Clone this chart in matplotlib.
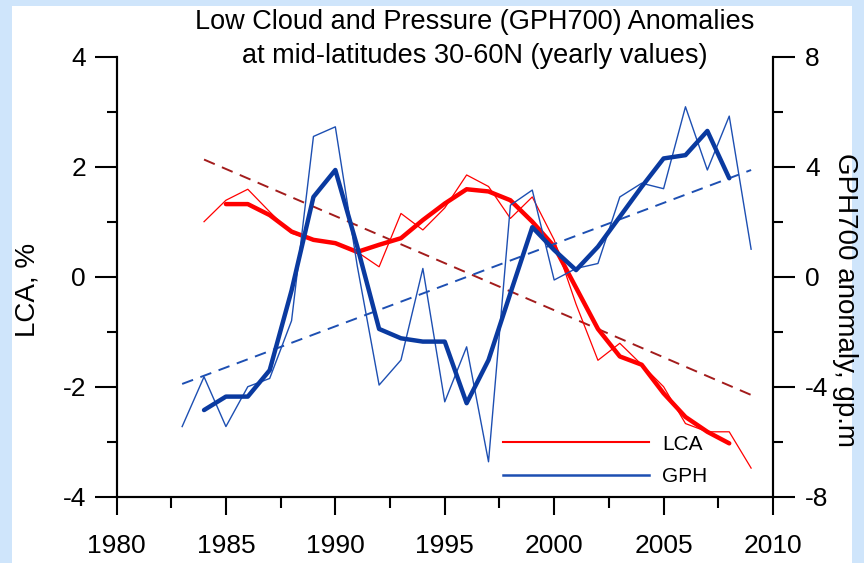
import matplotlib
matplotlib.use('Agg')
import matplotlib.pyplot as plt
from matplotlib.patches import Rectangle
from matplotlib.ticker import MultipleLocator

plt.rcParams['font.family'] = ['Liberation Sans Narrow', 'Liberation Sans', 'DejaVu Sans']
plt.rcParams['axes.unicode_minus'] = False

# LCA, % (left axis)
lca_years = list(range(1984, 2010))
lca_yearly = [1.0, 1.39, 1.59, 1.18, 0.79, 0.67, 0.61, 0.45, 0.18, 1.15, 0.85, 1.25, 1.85,
              1.64, 1.06, 1.45, 0.67, -0.5, -1.52, -1.21, -1.6, -2.0, -2.67, -2.82, -2.82, -3.48]
lca_smooth_years = list(range(1985, 2009))
lca_smooth = [1.32, 1.32, 1.12, 0.82, 0.67, 0.61, 0.45, 0.58, 0.70, 1.03, 1.33, 1.59,
              1.55, 1.39, 1.0, 0.55, -0.2, -0.95, -1.45, -1.6, -2.12, -2.55, -2.82, -3.03]
lca_trend_years = [1984, 2009]
lca_trend = [2.13, -2.15]

# GPH700 anomaly, gp.m (right axis)
gph_years = list(range(1983, 2010))
gph_yearly = [-5.45, -3.64, -5.45, -4.0, -3.7, -1.6, 5.1, 5.45, 0.4, -3.94, -3.03, 0.3, -4.55,
              -2.55, -6.73, 2.6, 3.15, -0.12, 0.3, 0.48, 2.9, 3.4, 3.2, 6.18, 3.88, 5.84, 1.0]
gph_smooth_years = list(range(1984, 2009))
gph_smooth = [-4.85, -4.36, -4.36, -3.4, -0.5, 2.9, 3.88, 1.1, -1.9, -2.24, -2.36, -2.36, -4.6,
              -3.03, -0.6, 1.8, 0.97, 0.24, 1.09, 2.18, 3.27, 4.3, 4.42, 5.3, 3.58]
gph_trend_years = [1983, 2009]
gph_trend = [-3.9, 3.88]

RED = '#ff0000'
DARKRED = '#a31c1c'
BLUE = '#0a3aa0'
BLUE_THIN = '#1d4fb2'

fig = plt.figure(figsize=(8.64, 5.63), dpi=100, facecolor='#cfe5fb')
fig.patches.append(Rectangle((12 / 864, 0), (852 - 12) / 864, (563 - 6) / 563,
                             transform=fig.transFigure, facecolor='white',
                             edgecolor='none', zorder=-10))

ax = fig.add_axes([116.5 / 864, 1 - 496.7 / 563, (773 - 116.5) / 864, 440 / 563])
ax.set_facecolor('none')
ax2 = ax.twinx()
ax2.set_facecolor('none')

ax.plot(lca_trend_years, lca_trend, color=DARKRED, lw=1.4, dashes=(6, 4))
ax.plot(lca_years, lca_yearly, color=RED, lw=0.9)
ax.plot(lca_smooth_years, lca_smooth, color=RED, lw=3.2, solid_capstyle='round')

ax2.plot(gph_trend_years, gph_trend, color=BLUE_THIN, lw=1.4, dashes=(6, 4))
ax2.plot(gph_years, gph_yearly, color=BLUE_THIN, lw=1.0)
ax2.plot(gph_smooth_years, gph_smooth, color=BLUE, lw=3.2, solid_capstyle='round')

ax.set_xlim(1980, 2010)
ax.set_ylim(-4, 4)
ax2.set_ylim(-8, 8)

ax.xaxis.set_major_locator(MultipleLocator(5))
ax.xaxis.set_minor_locator(MultipleLocator(2.5))
ax.yaxis.set_major_locator(MultipleLocator(2))
ax.yaxis.set_minor_locator(MultipleLocator(1))
ax2.yaxis.set_major_locator(MultipleLocator(4))
ax2.yaxis.set_minor_locator(MultipleLocator(2))

for a in (ax, ax2):
    a.spines['top'].set_visible(False)
    for s in a.spines.values():
        s.set_linewidth(1.5)
ax.tick_params(axis='x', which='major', length=13, width=1.5, labelsize=19, pad=14)
ax.tick_params(axis='x', which='minor', length=8, width=1.5)
ax.tick_params(axis='y', which='major', length=16, width=1.5, labelsize=19, pad=6)
ax.tick_params(axis='y', which='minor', length=7, width=1.5)
ax2.tick_params(axis='y', which='major', length=16, width=1.5, labelsize=19, pad=7)
ax2.tick_params(axis='y', which='minor', length=7, width=1.5)

fig.text(28 / 864, 1 - 290 / 563, 'LCA, %', rotation=90, ha='center', va='center', fontsize=20)
fig.text(845 / 864, 1 - 300 / 563, 'GPH700 anomaly, gp.m', rotation=270,
         ha='center', va='center', fontsize=20)

fig.text(0.549, 1 - 9 / 563, 'Low Cloud and Pressure (GPH700) Anomalies\nat mid-latitudes 30-60N (yearly values)',
         ha='center', va='top', fontsize=19.5, linespacing=1.38)

h1, = ax.plot([], [], color=RED, lw=1.5, label='LCA')
h2, = ax.plot([], [], color=BLUE_THIN, lw=1.8, label='GPH')
ax.legend(handles=[h1, h2], loc='lower left', bbox_to_anchor=(0.56, -0.018), frameon=False,
          fontsize=15, handlelength=7.0, handletextpad=0.65, labelspacing=0.63)

fig.savefig('out.png', dpi=100, facecolor=fig.get_facecolor())
